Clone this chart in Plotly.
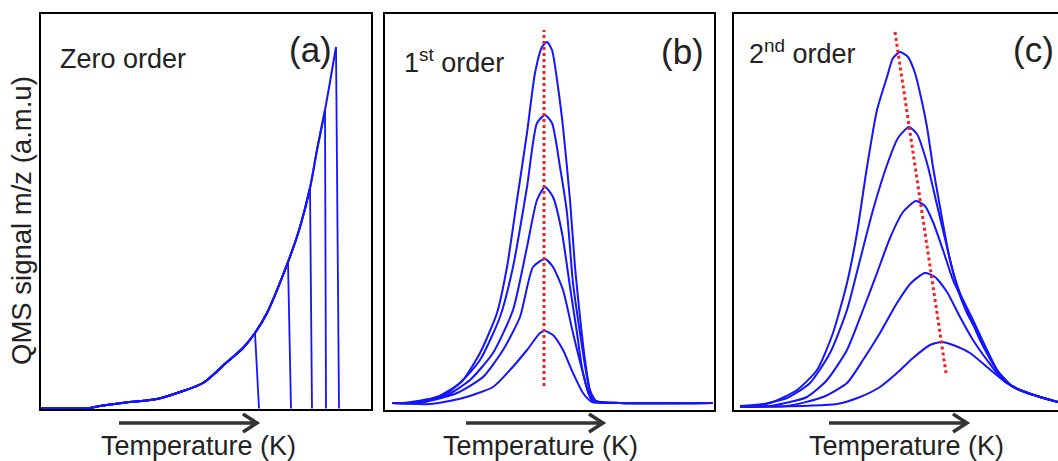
import plotly.graph_objects as go

W, H = 1058, 461

# ---------------- data (arbitrary units) ----------------
# (a) zero order: common leading edge, each curve drops at its own end temperature
zero_edge_T = [0, 49, 59, 81, 116, 139, 162, 186, 202, 214, 226, 247, 259, 269, 276, 284, 295]
zero_edge_S = [1, 1, 3, 6, 10, 17, 26, 47, 61, 76, 96, 147, 182, 221, 259, 299, 362]
zero_drop_top_T = [214, 247, 269, 284, 295]
zero_drop_end_T = [218, 250, 271, 285, 298]

# (b) first order
b1_T = [7, 35, 62, 78, 95, 112, 122, 132, 142, 150, 157, 162, 167, 173, 178, 185, 190, 195, 200, 205, 212, 235, 328]
b1_S = [7, 8, 17, 30, 57, 97, 143, 210, 277, 337, 363, 368, 360, 323, 283, 210, 143, 93, 50, 20, 8, 7, 7]
b2_T = [7, 18, 52, 75, 95, 115, 128, 142, 152, 160, 167, 175, 182, 188, 195, 202, 208, 235, 328]
b2_S = [7, 7, 13, 27, 50, 93, 143, 223, 287, 295, 287, 243, 197, 127, 77, 33, 10, 7, 7]
b3_T = [7, 25, 62, 85, 108, 128, 142, 152, 160, 168, 177, 185, 192, 198, 207, 235, 328]
b3_S = [7, 7, 15, 30, 57, 100, 163, 210, 223, 213, 177, 123, 77, 37, 10, 7, 7]
b4_T = [7, 35, 72, 98, 118, 135, 148, 160, 168, 178, 188, 198, 207, 235, 328]
b4_S = [7, 7, 17, 33, 60, 93, 143, 151, 143, 120, 77, 37, 10, 7, 7]
b5_T = [7, 45, 78, 108, 125, 142, 155, 160, 168, 178, 188, 198, 207, 235, 328]
b5_S = [7, 6, 12, 23, 40, 60, 77, 79, 75, 60, 37, 17, 8, 7, 7]
b_guide_T = [159, 159]
b_guide_S = [24, 380]

# (c) second order
c1_T = [6, 36, 63, 83, 99, 113, 123, 133, 143, 153, 159, 166, 174, 181, 186, 193, 199, 206, 216, 226, 239, 253, 269, 286, 306, 324]
c1_S = [4, 7, 20, 40, 77, 127, 177, 243, 300, 333, 352, 358, 353, 337, 317, 283, 243, 203, 150, 117, 90, 60, 30, 20, 13, 8]
c2_T = [6, 19, 53, 76, 96, 113, 126, 139, 153, 164, 175, 183, 193, 203, 213, 223, 233, 246, 263, 279, 306, 324]
c2_S = [4, 4, 12, 27, 57, 100, 150, 200, 245, 272, 283, 276, 247, 205, 163, 123, 97, 73, 40, 23, 13, 8]
c3_T = [6, 36, 73, 93, 113, 129, 143, 156, 169, 182, 191, 199, 209, 219, 233, 246, 263, 279, 306, 324]
c3_S = [4, 4, 13, 30, 60, 100, 137, 172, 198, 209, 204, 188, 160, 130, 100, 70, 40, 23, 13, 8]
c4_T = [6, 53, 89, 113, 129, 146, 163, 177, 191, 201, 213, 226, 239, 253, 269, 286, 306, 324]
c4_S = [4, 4, 13, 27, 50, 77, 107, 127, 137, 133, 118, 93, 70, 50, 30, 20, 13, 8]
c5_T = [6, 103, 126, 146, 163, 179, 196, 208, 219, 236, 253, 269, 286, 306, 324]
c5_S = [3, 6, 13, 23, 37, 52, 65, 68, 65, 57, 43, 30, 20, 13, 8]
c_guide_T = [161, 212]
c_guide_S = [378, 37]

panel_titles = ["Zero order", "1<sup>st</sup> order", "2<sup>nd</sup> order"]
panel_tags = ["(a)", "(b)", "(c)"]
x_label = "Temperature (K)"
y_label = "QMS signal m/z (a.m.u)"

# ---------------- style ----------------
BLUE = "#1414ff"
RED = "#ee2222"
TXT = "#222222"
FONT = "Liberation Sans, Arial, sans-serif"

def px(x):
    return x / W

def py(y):
    return 1 - y / H

fig = go.Figure()

# panel a: smooth leading edge up to the drop, then an (almost) vertical drop
for top, end in zip(zero_drop_top_T, zero_drop_end_T):
    xs = [t for t in zero_edge_T if t <= top]
    ys = zero_edge_S[:len(xs)]
    fig.add_trace(go.Scatter(x=xs, y=ys, mode="lines",
                             line=dict(color=BLUE, width=2, shape="spline", smoothing=0.8),
                             xaxis="x", yaxis="y", showlegend=False, hoverinfo="skip"))
    fig.add_trace(go.Scatter(x=[xs[-1], end], y=[ys[-1], 0.5], mode="lines",
                             line=dict(color=BLUE, width=1.8),
                             xaxis="x", yaxis="y", showlegend=False, hoverinfo="skip"))

# panel b
for T, S in [(b1_T, b1_S), (b2_T, b2_S), (b3_T, b3_S), (b4_T, b4_S), (b5_T, b5_S)]:
    fig.add_trace(go.Scatter(x=T, y=S, mode="lines", line=dict(color=BLUE, width=2, shape="spline", smoothing=0.6),
                             xaxis="x2", yaxis="y2", showlegend=False, hoverinfo="skip"))
fig.add_trace(go.Scatter(x=b_guide_T, y=b_guide_S, mode="lines", line=dict(color=RED, width=3, dash="dot"),
                         xaxis="x2", yaxis="y2", showlegend=False, hoverinfo="skip"))

# panel c
for T, S in [(c1_T, c1_S), (c2_T, c2_S), (c3_T, c3_S), (c4_T, c4_S), (c5_T, c5_S)]:
    fig.add_trace(go.Scatter(x=T, y=S, mode="lines", line=dict(color=BLUE, width=2, shape="spline", smoothing=0.6),
                             xaxis="x3", yaxis="y3", showlegend=False, hoverinfo="skip"))
fig.add_trace(go.Scatter(x=c_guide_T, y=c_guide_S, mode="lines", line=dict(color=RED, width=3, dash="dot"),
                         xaxis="x3", yaxis="y3", showlegend=False, hoverinfo="skip"))

ax_common = dict(showgrid=False, zeroline=False, showticklabels=False, ticks="",
                 showline=True, linecolor="black", linewidth=1.5, fixedrange=True)

fig.update_layout(
    width=W, height=H,
    margin=dict(l=0, r=0, t=0, b=0),
    paper_bgcolor="white", plot_bgcolor="white",
    font=dict(family=FONT, color=TXT),
    xaxis=dict(domain=[px(41), px(371)], range=[0, 330], mirror=True, anchor="y", **ax_common),
    yaxis=dict(domain=[py(409), py(14)], range=[0, 395], mirror=True, anchor="x", **ax_common),
    xaxis2=dict(domain=[px(385), px(714)], range=[0, 329], mirror=True, anchor="y2", **ax_common),
    yaxis2=dict(domain=[py(410), py(14)], range=[0, 396], mirror=True, anchor="x2", **ax_common),
    xaxis3=dict(domain=[px(734), 1.0], range=[0, 324], mirror=True, anchor="y3", **ax_common),
    yaxis3=dict(domain=[py(410), py(14)], range=[0, 396], mirror=False, anchor="x3", **ax_common),
)

ann = []
for (x, y), t in zip([(58, 59), (402, 61), (747, 52)], panel_titles):
    ann.append(dict(x=px(x), y=py(y), xref="paper", yref="paper", text=t, showarrow=False,
                    xanchor="left", yanchor="middle", font=dict(size=27, family=FONT, color=TXT)))
for (x, y), t in zip([(310, 49), (682, 51), (1033, 50)], panel_tags):
    ann.append(dict(x=px(x), y=py(y), xref="paper", yref="paper", text=t, showarrow=False,
                    xanchor="center", yanchor="middle", font=dict(size=35, family=FONT, color=TXT)))
for x in [198, 540, 906]:
    ann.append(dict(x=px(x), y=py(446), xref="paper", yref="paper", text=x_label, showarrow=False,
                    xanchor="center", yanchor="middle", font=dict(size=27, family=FONT, color=TXT)))
ann.append(dict(x=px(22), y=py(221), xref="paper", yref="paper", text=y_label, showarrow=False,
                textangle=-90, xanchor="center", yanchor="middle", font=dict(size=27.5, family=FONT, color=TXT)))
fig.update_layout(annotations=ann)

# arrows under each panel
shapes = []
for x0, x1 in [(119, 257), (466, 603), (829, 967)]:
    yy = 423
    path = (f"M {px(x0)},{py(yy)} L {px(x1)},{py(yy)} "
            f"M {px(x1-14)},{py(yy-9)} L {px(x1)},{py(yy)} L {px(x1-14)},{py(yy+9)}")
    shapes.append(dict(type="path", xref="paper", yref="paper", path=path,
                       line=dict(color="#333333", width=3.5)))
fig.update_layout(shapes=shapes)

fig.write_html("out.html")
